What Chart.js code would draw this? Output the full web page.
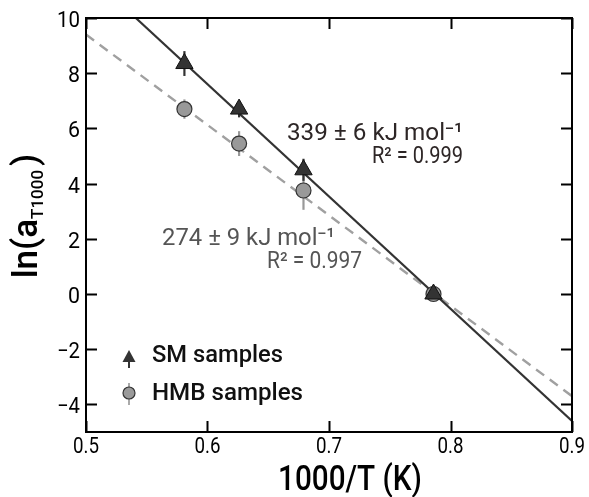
<!DOCTYPE html>
<html>
<head>
  <title>Arrhenius plot</title>
  <script src="https://cdn.jsdelivr.net/npm/chart.js"></script>
  <style>
    body { margin: 0; background: #fff; }
    #wrap { position: relative; width: 589px; height: 497px; }
  </style>
</head>
<body>
<div id="wrap"><canvas id="chart"></canvas></div>
<script>
// SM samples (triangles)
const smX = [0.581, 0.626, 0.679, 0.786];
const smY = [8.35, 6.7, 4.5, 0.0];
const smErr = [0.45, 0.3, 0.4, 0.1];
// HMB samples (circles)
const hmbX = [0.581, 0.626, 0.679, 0.786];
const hmbY = [6.7, 5.45, 3.75, 0.0];
const hmbErr = [0.35, 0.45, 0.7, 0.1];
// fitted lines (end points)
const smFitX = [0.541, 0.9];
const smFitY = [10, -4.6];
const hmbFitX = [0.5, 0.9];
const hmbFitY = [9.4, -3.7];
const xTicks = [0.5, 0.6, 0.7, 0.8, 0.9];
const yTicks = [-4, -2, 0, 2, 4, 6, 8, 10];
const xTickLabels = ['0.5', '0.6', '0.7', '0.8', '0.9'];
const yTickLabels = ['\u22124', '\u22122', '0', '2', '4', '6', '8', '10'];

const pts = (xs, ys) => xs.map((x, i) => ({ x: x, y: ys[i] }));
const FONT = 'Roboto, "Noto Sans", sans-serif';

// draw text squeezed to a given width (the original uses a condensed face)
function fitText(ctx, str, x, y, font, width, align) {
  ctx.save();
  ctx.font = font;
  const w = ctx.measureText(str).width;
  const k = width ? width / w : 1;
  ctx.translate(x, y);
  ctx.scale(k, 1);
  ctx.textAlign = align || 'left';
  ctx.fillText(str, 0, 0);
  ctx.restore();
}

const extras = {
  id: 'extras',
  beforeDatasetsDraw(chart) {
    const { ctx, scales: { x, y } } = chart;
    ctx.save();
    ctx.lineWidth = 2.2;
    hmbX.forEach((v, i) => {
      ctx.strokeStyle = '#999';
      ctx.beginPath();
      ctx.moveTo(x.getPixelForValue(v), y.getPixelForValue(hmbY[i] - hmbErr[i]));
      ctx.lineTo(x.getPixelForValue(v), y.getPixelForValue(hmbY[i] + hmbErr[i]));
      ctx.stroke();
    });
    smX.forEach((v, i) => {
      ctx.strokeStyle = '#333';
      ctx.beginPath();
      ctx.moveTo(x.getPixelForValue(v), y.getPixelForValue(smY[i] - smErr[i]));
      ctx.lineTo(x.getPixelForValue(v), y.getPixelForValue(smY[i] + smErr[i]));
      ctx.stroke();
    });
    ctx.restore();
  },
  afterDraw(chart) {
    const { ctx, chartArea: a, scales: { x, y } } = chart;
    ctx.save();
    // frame
    ctx.strokeStyle = '#000';
    ctx.lineWidth = 2;
    ctx.strokeRect(a.left, a.top, a.right - a.left, a.bottom - a.top);
    // inward ticks on all four sides
    const tl = 11;
    ctx.beginPath();
    xTicks.forEach(t => {
      const px = Math.round(x.getPixelForValue(t)) + 0.5;
      ctx.moveTo(px, a.bottom); ctx.lineTo(px, a.bottom - tl);
      ctx.moveTo(px, a.top); ctx.lineTo(px, a.top + tl);
    });
    yTicks.forEach(t => {
      const py = Math.round(y.getPixelForValue(t)) + 0.5;
      ctx.moveTo(a.left, py); ctx.lineTo(a.left + tl, py);
      ctx.moveTo(a.right, py); ctx.lineTo(a.right - tl, py);
    });
    ctx.stroke();

    // tick labels
    ctx.fillStyle = '#000';
    ctx.textBaseline = 'alphabetic';
    xTicks.forEach((t, i) => {
      fitText(ctx, xTickLabels[i], x.getPixelForValue(t), a.bottom + 21, '22px ' + FONT, 26, 'center');
    });
    yTicks.forEach((t, i) => {
      const lbl = yTickLabels[i];
      fitText(ctx, lbl, a.left - 6, y.getPixelForValue(t) + 9, '22px ' + FONT, lbl.length > 1 ? 23 : 12, 'right');
    });

    // annotations
    ctx.fillStyle = '#2d2626';
    fitText(ctx, '339 ± 6 kJ mol\u207B\u00B9', x.getPixelForValue(0.6654), y.getPixelForValue(5.58), '24px ' + FONT, 176);
    fitText(ctx, 'R\u00B2 = 0.999', x.getPixelForValue(0.7354), y.getPixelForValue(4.75), '23px ' + FONT, 91);
    ctx.fillStyle = '#555';
    fitText(ctx, '274 ± 9 kJ mol\u207B\u00B9', x.getPixelForValue(0.5626), y.getPixelForValue(1.78), '24px ' + FONT, 173);
    fitText(ctx, 'R\u00B2 = 0.997', x.getPixelForValue(0.649), y.getPixelForValue(0.94), '23px ' + FONT, 95);

    // legend
    const lx = 129, ly1 = 357, ly2 = 393;
    ctx.strokeStyle = '#333';
    ctx.lineWidth = 2;
    ctx.beginPath(); ctx.moveTo(lx, ly1 - 4); ctx.lineTo(lx, ly1 + 11); ctx.stroke();
    ctx.fillStyle = '#333';
    ctx.beginPath();
    ctx.moveTo(lx, ly1 - 7); ctx.lineTo(lx + 6.5, ly1 + 5); ctx.lineTo(lx - 6.5, ly1 + 5); ctx.closePath();
    ctx.fill();
    ctx.strokeStyle = '#aaa';
    ctx.beginPath(); ctx.moveTo(lx, ly2 - 10); ctx.lineTo(lx, ly2 + 12); ctx.stroke();
    ctx.fillStyle = '#9a9a9a';
    ctx.strokeStyle = '#333';
    ctx.lineWidth = 1.2;
    ctx.beginPath(); ctx.arc(lx, ly2, 6, 0, Math.PI * 2); ctx.fill(); ctx.stroke();
    ctx.fillStyle = '#111';
    fitText(ctx, 'SM samples', 152, 362, '500 23px ' + FONT, 131);
    fitText(ctx, 'HMB samples', 152, 400, '500 23px ' + FONT, 151);

    // axis titles
    ctx.fillStyle = '#000';
    fitText(ctx, '1000/T (K)', 278, 490, '500 35px ' + FONT, 144);

    ctx.translate(37, 216);
    ctx.rotate(-Math.PI / 2);
    const big = '500 35px ' + FONT, small = '500 17px ' + FONT;
    ctx.font = big; const w1 = ctx.measureText('ln(a').width;
    ctx.font = small; const w2 = ctx.measureText('T1000').width;
    ctx.font = big; const w3 = ctx.measureText(')').width;
    const gap = 4;
    let sx = -(w1 + w2 + w3 + gap) / 2;
    ctx.textAlign = 'left';
    ctx.font = big; ctx.fillText('ln(a', sx, 0); sx += w1;
    ctx.font = small; ctx.fillText('T1000', sx, 6); sx += w2 + gap;
    ctx.font = big; ctx.fillText(')', sx, 0);
    ctx.restore();
  }
};

new Chart(document.getElementById('chart'), {
  type: 'scatter',
  data: {
    datasets: [
      {
        label: 'SM samples', data: pts(smX, smY), order: 1,
        pointStyle: 'triangle', pointRadius: 10, pointHoverRadius: 10,
        backgroundColor: '#333', borderColor: '#111', borderWidth: 1
      },
      {
        label: 'HMB samples', data: pts(hmbX, hmbY), order: 2,
        pointStyle: 'circle', pointRadius: 7.5, pointHoverRadius: 7.5,
        backgroundColor: '#999', borderColor: '#333', borderWidth: 1.2
      },
      {
        label: 'SM fit', data: pts(smFitX, smFitY), order: 3, showLine: true,
        pointRadius: 0, borderColor: '#333', borderWidth: 2.2
      },
      {
        label: 'HMB fit', data: pts(hmbFitX, hmbFitY), order: 4, showLine: true,
        pointRadius: 0, borderColor: '#a0a0a0', borderWidth: 2.4, borderDash: [10, 7]
      }
    ]
  },
  options: {
    responsive: true,
    maintainAspectRatio: false,
    animation: false,
    layout: { padding: { top: 18, right: 17, left: 0, bottom: 0 } },
    plugins: { legend: { display: false }, tooltip: { enabled: false } },
    scales: {
      x: {
        type: 'linear', min: 0.5, max: 0.9,
        afterFit: s => { s.height = 65; },
        grid: { display: false },
        border: { display: false },
        ticks: { display: false }
      },
      y: {
        type: 'linear', min: -5, max: 10,
        afterFit: s => { s.width = 86; },
        grid: { display: false },
        border: { display: false },
        ticks: { display: false }
      }
    }
  },
  plugins: [extras]
});
</script>
</body>
</html>
